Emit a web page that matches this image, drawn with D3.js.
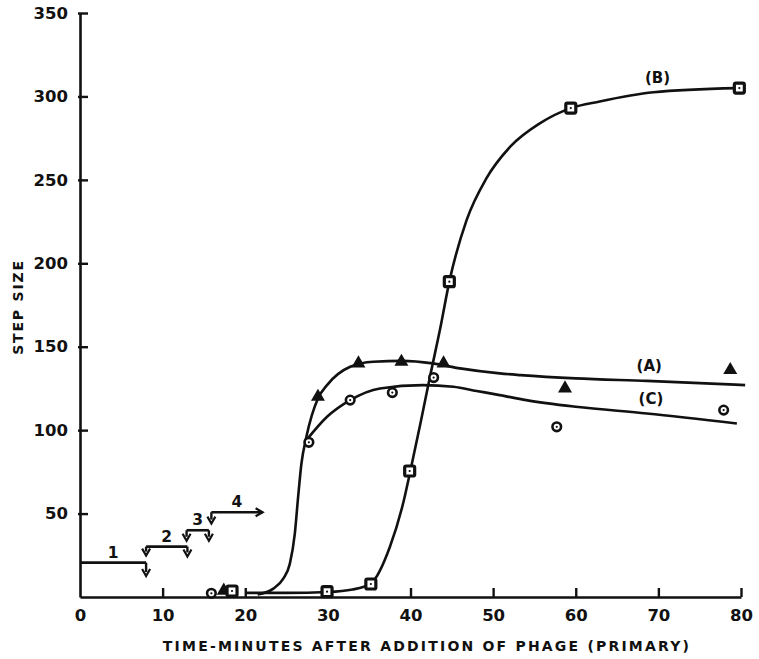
<!DOCTYPE html>
<html>
<head>
<meta charset="utf-8">
<script src="https://cdn.jsdelivr.net/npm/d3@7"></script>
<style>
  body { margin: 0; background: #fff; }
  text { font-family: "DejaVu Sans", sans-serif; font-weight: bold; fill: #111; }
</style>
</head>
<body>
<div id="chart"></div>
<script>
// measured points (minutes, step size)
const ptsA_x = [17.4, 28.8, 33.7, 38.9, 44.0, 58.7, 78.7];
const ptsA_y = [3.8, 120, 140, 141, 140, 125, 136];
const ptsB_x = [18.4, 29.9, 35.2, 39.9, 44.7, 59.4, 79.8];
const ptsB_y = [3.6, 3.2, 7.8, 75.5, 189, 293, 305];
const ptsC_x = [15.9, 27.7, 32.7, 37.8, 42.8, 57.7, 77.9];
const ptsC_y = [2.2, 92.7, 118, 122.5, 131.5, 102, 112];

// fitted curves as drawn
const curveA_x = [21.5, 23.4, 24.6, 25.4, 26.0, 26.4, 26.8, 27.4, 28.8, 29.9, 32.7, 35.5, 39, 42.7, 46, 50.8, 53.3, 60, 68.6, 80.5];
const curveA_y = [1.5, 5, 11, 20, 38, 60, 80, 96, 119, 127, 138, 141, 141.5, 140, 137, 134, 133, 131, 129.5, 127];
const curveC_x = [27.4, 29.9, 32.7, 36.3, 41.5, 45.2, 48, 50.8, 54, 60, 68.6, 79.5];
const curveC_y = [94, 108, 118, 125, 127, 126, 123.5, 121, 118, 114, 110, 104];
const curveB_x = [20, 25, 30, 33, 35.2, 37.5, 39.1, 40, 41.2, 42.4, 43.6, 44.7, 46.8, 49.2, 52.1, 55.7, 59.4, 62.9, 69.4, 79.5];
const curveB_y = [2.5, 2.5, 3, 4.5, 8.2, 30, 56, 76, 104, 133, 161, 189, 226, 251, 270, 284, 293, 297, 302.5, 305];

const curveLabels = ["(A)", "(B)", "(C)"];
const curveLabelX = [68.9, 69.9, 69.1];
const curveLabelY = [135.5, 308, 115.5];

// infection steps: label, start, end, level, arrow tip
const stepLabels = ["1", "2", "3", "4"];
const stepX0 = [0, 8.0, 12.9, 15.9];
const stepX1 = [8.0, 13.0, 15.6, 22.1];
const stepY = [20.6, 30.2, 40, 50.8];
const stepTipL = [null, 24.8, 33.7, 44];
const stepTipR = [12.6, 24.3, 33.7, null];

const xTicks = [0, 10, 20, 30, 40, 50, 60, 70, 80];
const yTicks = [0, 50, 100, 150, 200, 250, 300, 350];

const W = 759, H = 659;
const x = d3.scaleLinear().domain([0, 80]).range([80, 741]);
const y = d3.scaleLinear().domain([0, 350]).range([597, 13]);

const svg = d3.select("#chart").append("svg")
    .attr("width", W)
    .attr("height", H);

// axes
const yAxis = svg.append("g")
    .attr("transform", `translate(${x(0)},0)`)
    .call(d3.axisLeft(y).tickValues(yTicks.slice(1)).tickSize(-8).tickSizeOuter(0).tickPadding(12));
const xAxis = svg.append("g")
    .attr("transform", `translate(0,${y(0)})`)
    .call(d3.axisBottom(x).tickValues(xTicks).tickSize(-9).tickSizeOuter(0).tickPadding(12));

[xAxis, yAxis].forEach(g => {
    g.select(".domain").attr("stroke", "#111").attr("stroke-width", 2.6);
    g.selectAll(".tick line").attr("stroke", "#111").attr("stroke-width", 2.4);
    g.selectAll(".tick text").style("font-size", "16.5px").attr("fill", "#111");
});
xAxis.select(".tick line").remove();
yAxis.selectAll(".tick line").attr("x1", -2);

svg.append("text")
    .attr("x", 427).attr("y", 651)
    .attr("text-anchor", "middle")
    .style("font-size", "14px")
    .style("letter-spacing", "2.2px")
    .text("TIME-MINUTES AFTER ADDITION OF PHAGE (PRIMARY)");

svg.append("text")
    .attr("transform", "translate(23,307) rotate(-90)")
    .attr("text-anchor", "middle")
    .style("font-size", "14px")
    .style("letter-spacing", "1.8px")
    .text("STEP SIZE");

// curves
const line = d3.line()
    .x(d => x(d[0]))
    .y(d => y(d[1]))
    .curve(d3.curveMonotoneX);

[[curveA_x, curveA_y], [curveB_x, curveB_y], [curveC_x, curveC_y]].forEach(c => {
    svg.append("path")
        .datum(d3.zip(c[0], c[1]))
        .attr("fill", "none")
        .attr("stroke", "#111")
        .attr("stroke-width", 2.6)
        .attr("d", line);
});

curveLabels.forEach((t, i) => {
    svg.append("text")
        .attr("x", x(curveLabelX[i])).attr("y", y(curveLabelY[i]))
        .attr("text-anchor", "middle")
        .style("font-size", "15px")
        .text(t);
});

// markers
const tri = d3.symbol().type(d3.symbolTriangle).size(85);
svg.selectAll(".ptA")
    .data(d3.zip(ptsA_x, ptsA_y))
    .enter().append("path")
    .attr("d", tri)
    .attr("transform", d => `translate(${x(d[0])},${y(d[1])})`)
    .attr("fill", "#111");

svg.selectAll(".ptB")
    .data(d3.zip(ptsB_x, ptsB_y))
    .enter().append("rect")
    .attr("x", d => x(d[0]) - 5).attr("y", d => y(d[1]) - 5)
    .attr("width", 10).attr("height", 10)
    .attr("rx", 1.5)
    .attr("fill", "#fff").attr("stroke", "#111").attr("stroke-width", 3.2);

svg.selectAll(".ptC")
    .data(d3.zip(ptsC_x, ptsC_y))
    .enter().append("circle")
    .attr("cx", d => x(d[0])).attr("cy", d => y(d[1]))
    .attr("r", 4.3)
    .attr("fill", "#fff").attr("stroke", "#111").attr("stroke-width", 2.6);

// center dots
svg.selectAll(".dotBC")
    .data(d3.zip(ptsB_x, ptsB_y).concat(d3.zip(ptsC_x, ptsC_y)))
    .enter().append("circle")
    .attr("cx", d => x(d[0])).attr("cy", d => y(d[1]))
    .attr("r", 1.1)
    .attr("fill", "#111");

// infection step brackets
function arrowDown(px, yTop, yTip) {
    svg.append("line")
        .attr("x1", px).attr("x2", px).attr("y1", yTop).attr("y2", yTip - 4)
        .attr("stroke", "#111").attr("stroke-width", 2.4);
    svg.append("path")
        .attr("d", `M${px - 4},${yTip - 7} L${px},${yTip} L${px + 4},${yTip - 7}`)
        .attr("fill", "none").attr("stroke", "#111").attr("stroke-width", 2.2);
}

stepLabels.forEach((t, i) => {
    const x0 = x(stepX0[i]), x1 = x(stepX1[i]), ly = y(stepY[i]);
    svg.append("line")
        .attr("x1", x0).attr("x2", x1).attr("y1", ly).attr("y2", ly)
        .attr("stroke", "#111").attr("stroke-width", 2.6);
    if (stepTipL[i] !== null) arrowDown(x0, ly, y(stepTipL[i]));
    if (stepTipR[i] !== null) arrowDown(x1, ly, y(stepTipR[i]));
    else {
        svg.append("path")
            .attr("d", `M${x1 - 7},${ly - 4} L${x1},${ly} L${x1 - 7},${ly + 4}`)
            .attr("fill", "none").attr("stroke", "#111").attr("stroke-width", 2.2);
    }
    svg.append("text")
        .attr("x", (x0 + x1) / 2).attr("y", ly - 5)
        .attr("text-anchor", "middle")
        .style("font-size", "15.5px")
        .text(t);
});
</script>
</body>
</html>
